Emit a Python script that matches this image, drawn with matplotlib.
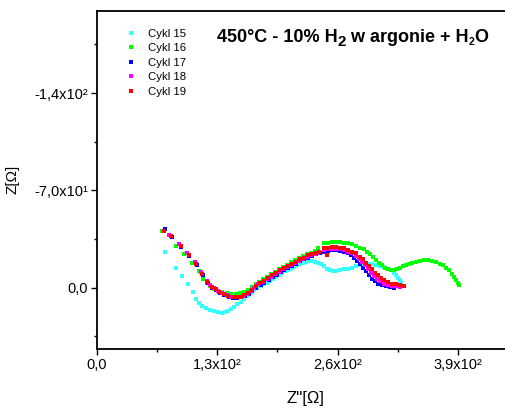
import matplotlib
matplotlib.use("Agg")
import matplotlib.pyplot as plt
from matplotlib.ticker import FixedLocator, FixedFormatter, NullFormatter

plt.rcParams["font.family"] = ["Liberation Sans", "DejaVu Sans"]

# ---- impedance data: Z' (x) and Z'' (y, negative = capacitive) -------------
cykl15_x = [73.8, 85.0, 92.2, 98.7, 103.7, 107.3, 110.5, 113.8, 117.8, 122.4,
            126.8, 131.1, 135.1, 138.3, 141.2, 144.5, 148.0, 151.6, 155.6, 159.2,
            162.8, 166.1, 169.7, 173.2, 176.7, 180.5, 183.7, 186.9, 190.2, 193.4,
            196.7, 199.9, 203.2, 206.4, 209.6, 212.9, 216.1, 219.4, 222.6, 225.8,
            229.1, 232.3, 235.6, 238.9, 242.1, 245.3, 248.5, 251.8, 255.0, 258.3,
            262.6, 266.9, 271.2, 275.5, 279.9, 284.2, 288.5, 292.8, 297.2, 301.5,
            305.8, 310.1, 314.5, 317.7, 320.9, 323.1, 325.3, 326.9, 328.5]
cykl15_y = [-25.5, -14.0, -8.4, -2.7, 3.3, 8.3, 11.2, 13.2, 14.6, 15.8,
            17.0, 17.7, 18.2, 17.5, 16.5, 15.1, 13.7, 11.7, 10.1, 8.3,
            6.0, 3.6, 1.7, 0.0, -1.2, -2.7, -3.7, -4.8, -6.3, -7.7,
            -9.1, -10.6, -11.7, -12.7, -13.8, -14.9, -16.0, -17.0, -18.1, -18.8,
            -19.2, -19.2, -18.8, -17.8, -16.7, -15.3, -13.8, -12.7, -12.0, -12.0,
            -12.4, -13.1, -13.8, -14.5, -15.3, -16.0, -16.3, -16.7, -16.7, -16.3,
            -15.6, -14.9, -13.8, -12.4, -10.6, -8.8, -7.0, -5.2, -3.4]

cykl16_x = [69.9, 85.0, 94.0, 103.0, 109.9, 114.9, 118.5, 122.5, 126.8, 131.0,
            135.5, 140.2, 145.0, 150.2, 154.8, 159.2, 163.2, 167.2, 171.3, 175.4,
            179.6, 183.9, 188.2, 192.5, 196.8, 201.1, 205.4, 209.7, 214.0, 218.3,
            222.6, 226.9, 231.2, 235.5, 239.2,
            245.3, 249.6, 253.9, 258.3, 262.6, 266.9, 271.2, 275.5, 279.9, 284.2,
            288.5, 291.8, 295.0, 298.2, 301.5, 304.7, 308.0, 311.2, 314.5, 317.7,
            320.9, 324.2, 327.4, 330.7, 333.9, 337.1, 340.4, 344.7, 349.0, 353.4,
            357.7, 362.0, 366.3, 370.6, 373.9, 377.1, 380.4, 383.6, 385.8, 387.9,
            390.1, 391.7]
cykl16_y = [-40.8, -30.0, -24.0, -18.0, -11.8, -6.0, -3.2, -0.9, 0.8, 2.2,
            3.1, 3.6, 4.3, 4.5, 4.0, 2.9, 1.4, -0.7, -2.5, -4.3,
            -6.0, -7.8, -9.6, -11.4, -13.2, -15.0, -16.6, -18.2, -19.7, -21.2,
            -22.6, -24.0, -25.2, -26.4, -28.3,
            -31.8, -32.5, -32.9, -32.9, -32.9, -32.5, -31.8, -31.1, -30.0, -28.9,
            -27.5, -25.7, -23.9, -22.1, -19.9, -17.8, -16.0, -14.5, -13.5, -12.7,
            -12.7, -13.1, -14.2, -15.3, -16.3, -17.4, -18.1, -18.8, -19.2, -19.6,
            -19.6, -19.2, -18.5, -17.4, -16.3, -14.5, -12.4, -9.9, -7.7, -5.5,
            -3.4, -1.6]

cykl17_x = [73.5, 81.1, 91.0, 99.8, 107.8, 114.2, 119.8, 124.5, 129.0, 133.0,
            137.6, 142.4, 147.1, 151.5, 155.9, 159.8, 163.8, 167.8, 172.3, 176.7,
            181.0, 185.4, 189.7, 194.0, 198.3, 202.6, 206.9, 211.2, 215.5, 219.8,
            224.1, 228.4, 232.7, 237.0, 240.5,
            245.3, 249.6, 253.9, 258.3, 262.6, 266.9, 271.2, 274.5, 277.7, 280.9,
            284.2, 287.4, 290.7, 293.9, 297.2, 300.4, 303.7, 308.0, 312.3, 316.6,
            320.9]
cykl17_y = [-41.9, -36.5, -29.0, -22.5, -16.0, -9.2, -3.2, -0.1, 1.8, 3.6,
            5.0, 6.4, 7.1, 7.3, 7.0, 6.0, 4.3, 2.5, 0.0, -2.0,
            -3.7, -5.6, -7.4, -9.2, -11.0, -12.7, -14.3, -15.9, -17.4, -18.9,
            -20.3, -21.7, -22.9, -24.0, -24.8,
            -26.0, -26.4, -26.8, -26.8, -26.4, -25.7, -24.6, -23.2, -21.4, -19.2,
            -16.7, -14.2, -11.7, -9.1, -6.6, -4.5, -2.7, -1.6, -0.9, -0.5,
            -0.1]

cykl18_x = [77.8, 88.3, 97.6, 105.6, 112.7, 118.5, 122.4, 126.8, 131.1, 135.5,
            140.2, 145.0, 149.5, 154.0, 158.0, 162.0, 166.0, 170.0, 174.5, 179.0,
            183.3, 187.6, 192.0, 196.3, 200.7, 205.0, 209.3, 213.6, 217.9, 222.2,
            226.5, 230.8, 235.1, 238.9,
            245.3, 249.6, 253.9, 258.3, 262.6, 266.9, 271.2, 275.5, 279.9, 283.1,
            286.4, 289.6, 292.8, 296.1, 299.3, 302.6, 305.8, 310.1, 314.5, 318.8,
            323.1, 327.4]
cykl18_y = [-37.9, -31.2, -25.0, -18.3, -11.5, -4.8, -1.6, 0.5, 2.5, 4.0,
            5.5, 6.5, 7.0, 6.9, 6.0, 4.5, 2.5, 0.0, -2.5, -4.3,
            -6.0, -7.9, -9.7, -11.5, -13.3, -14.8, -16.4, -17.9, -19.4, -20.8,
            -22.2, -23.4, -24.5, -25.3,
            -27.1, -27.5, -27.8, -27.8, -27.5, -26.8, -25.7, -24.6, -22.8, -20.6,
            -18.5, -16.0, -13.5, -10.9, -8.4, -6.3, -4.5, -3.0, -1.9, -1.2,
            -0.9, -0.5]

cykl19_x = [72.4, 80.0, 90.4, 99.4, 107.3, 113.8, 119.2, 123.9, 128.3, 132.2,
            136.9, 141.9, 146.6, 151.0, 155.3, 159.2, 163.2, 167.2, 171.8, 176.1,
            180.5, 184.8, 189.1, 193.4, 197.8, 202.1, 206.4, 210.7, 215.0, 219.4,
            223.7, 228.0, 232.3, 236.7, 239.9, 248.5,
            245.3, 249.6, 253.9, 258.3, 262.6, 266.9, 271.2, 275.5, 279.9, 284.2,
            287.4, 290.7, 293.9, 297.2, 300.4, 303.7, 306.9, 310.1, 314.5, 318.8,
            323.1, 327.4, 331.7]
cykl19_y = [-40.8, -37.2, -29.8, -23.3, -16.8, -9.9, -3.9, -0.7, 1.2, 3.1,
            4.5, 6.0, 6.7, 6.9, 6.5, 5.5, 3.6, 1.7, -0.9, -3.2,
            -4.8, -7.0, -8.8, -10.6, -12.4, -14.2, -15.6, -17.4, -18.8, -20.3,
            -21.7, -23.2, -24.2, -25.3, -26.0, -23.5,
            -28.6, -28.9, -29.3, -29.3, -28.9, -28.2, -27.1, -26.0, -24.6, -22.4,
            -20.3, -17.8, -15.6, -13.5, -10.9, -8.8, -7.0, -5.5, -4.1, -3.0,
            -2.3, -1.6, -1.0]

series_labels = ["Cykl 15", "Cykl 16", "Cykl 17", "Cykl 18", "Cykl 19"]
series_colors = ["#33FFFF", "#00FF00", "#0000FF", "#FF00FF", "#FF0000"]

x_ticks = [0, 130, 260, 390]
x_ticklabels = ["0,0", "1,3x10²", "2,6x10²", "3,9x10²"]
y_ticks = [0, -70, -140]
y_ticklabels = ["0,0", "-7,0x10¹", "-1,4x10²"]

W, H = 505, 412
fig = plt.figure(figsize=(W / 100, H / 100), dpi=100)
ax = fig.add_axes([97 / W, 63 / H, 408 / W, 338.5 / H])

data = [(cykl15_x, cykl15_y), (cykl16_x, cykl16_y), (cykl17_x, cykl17_y),
        (cykl18_x, cykl18_y), (cykl19_x, cykl19_y)]
for (xs, ys), lab, col in zip(data, series_labels, series_colors):
    ax.plot(xs, ys, linestyle="none", marker="s", markersize=3.3,
            markeredgewidth=0, color=col, label=lab)

ax.set_xlim(0, 440.9)
ax.set_ylim(44.1, -199.4)

ax.xaxis.set_major_locator(FixedLocator(x_ticks))
ax.xaxis.set_major_formatter(FixedFormatter(x_ticklabels))
ax.xaxis.set_minor_locator(FixedLocator([65, 195, 325]))
ax.yaxis.set_major_locator(FixedLocator(y_ticks))
ax.yaxis.set_major_formatter(FixedFormatter(y_ticklabels))
ax.yaxis.set_minor_locator(FixedLocator([35, -35, -105, -175]))
ax.xaxis.set_minor_formatter(NullFormatter())
ax.yaxis.set_minor_formatter(NullFormatter())

ax.tick_params(which="major", direction="out", length=4.5, width=1.0,
               labelsize=10.5, colors="black", pad=2)
ax.tick_params(which="minor", direction="out", length=2.5, width=1.0)
ax.tick_params(axis="x", which="both", top=False)
ax.spines["right"].set_visible(False)
for s in ("left", "bottom", "top"):
    ax.spines[s].set_linewidth(1.3)

ax.set_xlabel("Z''[Ω]", fontsize=12)
ax.xaxis.set_label_coords(0.51, -0.125)
ax.set_ylabel("Z[Ω]", fontsize=11)
ax.yaxis.set_label_coords(-0.19, 0.5)

leg = ax.legend(loc="upper left", bbox_to_anchor=(126.4 / W, 1 - 29 / H),
                bbox_transform=fig.transFigure, frameon=False, fontsize=8.2,
                handlelength=0.8, handletextpad=1.1, labelspacing=0.39,
                borderpad=0, borderaxespad=0, markerscale=1.0)

# title line built from pieces so the subscripts can differ in size
fig.canvas.draw()
renderer = fig.canvas.get_renderer()
pieces = [("450°C - 10% H", 13, 0), ("2", 11, -5), (" w argonie + H", 13, 0),
          ("2", 7.5, -3.5), ("O", 13, 0)]
x_px = 217.0
base_px = H - 41.5
for txt, size, dy in pieces:
    t = fig.text(x_px / W, (base_px + dy) / H, txt, fontsize=size,
                 fontweight="bold", ha="left", va="baseline")
    bb = t.get_window_extent(renderer=renderer)
    x_px = bb.x1

fig.savefig("out.png", dpi=100)
